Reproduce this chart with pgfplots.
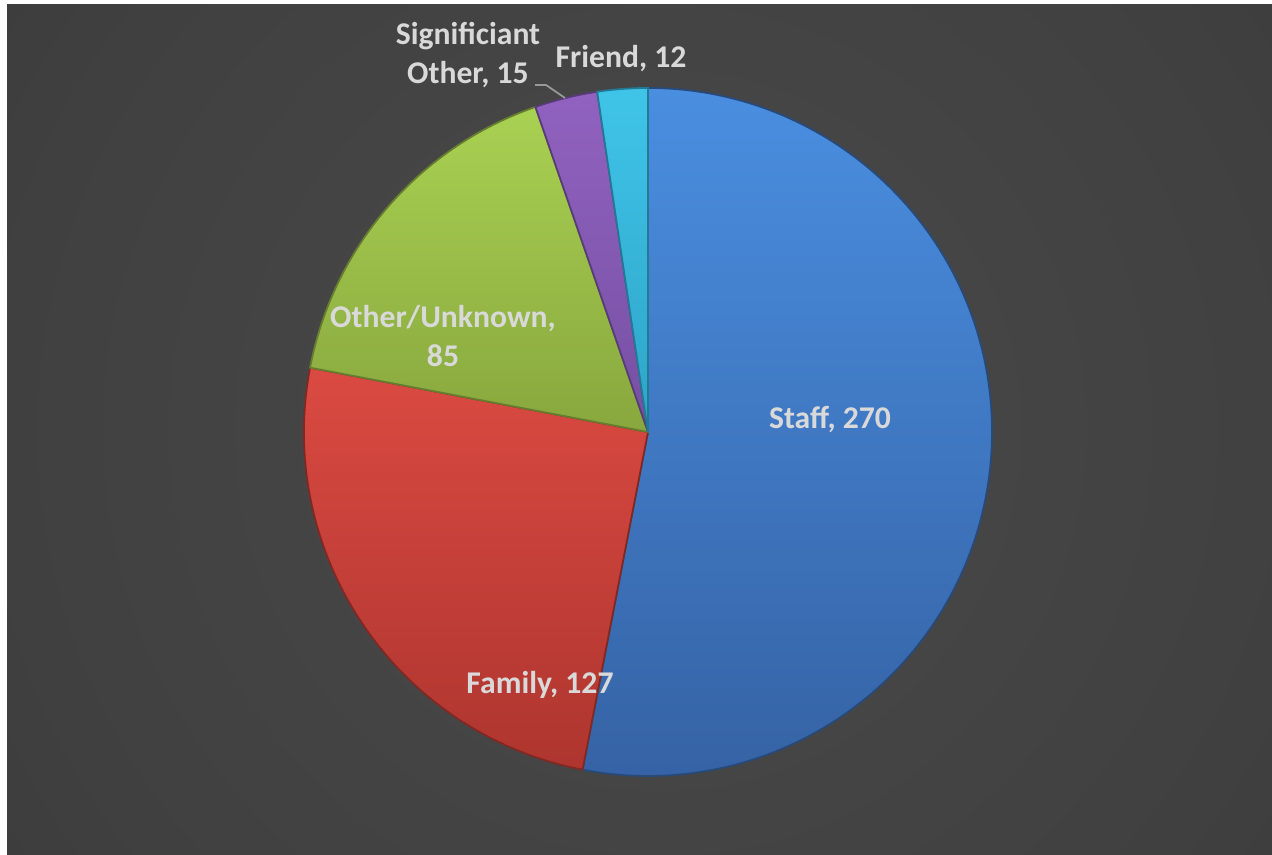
\documentclass[border=0pt]{standalone}
\usepackage{fontspec}
\setmainfont{Carlito}
\usepackage{pgfplots}
\pgfplotsset{compat=1.18}
\usepackage{pgfplotstable}

\pgfplotstableread[col sep=comma]{
label,value
Staff,270
Family,127
Other/Unknown,85
Significiant Other,15
Friend,12
}\piedata

\definecolor{bgA}{HTML}{4A4A4A}
\definecolor{bgB}{HTML}{404040}
\definecolor{bgC}{HTML}{363636}
\definecolor{bgD}{HTML}{262626}
\definecolor{lbl}{HTML}{D9D9D9}
\definecolor{staffT}{HTML}{4A8EE0}
\definecolor{staffB}{HTML}{3562A4}
\definecolor{famT}{HTML}{DA4A42}
\definecolor{famB}{HTML}{AE352F}
\definecolor{othT}{HTML}{A9D152}
\definecolor{othB}{HTML}{88A73E}
\definecolor{sigT}{HTML}{9162C0}
\definecolor{sigB}{HTML}{7550A2}
\definecolor{friT}{HTML}{3FC4E8}
\definecolor{friB}{HTML}{2EA4C8}

% 50bp = radius of the background circle
\pgfdeclareradialshading{bgshade}{\pgfpoint{0bp}{0bp}}{%
  color(0bp)=(bgA); color(20bp)=(bgB); color(33bp)=(bgC); color(48bp)=(bgD); color(100bp)=(bgD)}

% one slice: start angle, end angle, top colour, bottom colour
\newcommand\slice[4]{%
  \fill[top color=#3,bottom color=#4,draw=#4!75!black,line width=0.5pt]
    (axis cs:648,423) -- (axis cs:{648+344*cos(#1)},{423+344*sin(#1)})
    arc[start angle=#1,end angle=#2,radius=3.44cm] -- cycle;}

% cumulative angles, clockwise from 12 o'clock
\pgfplotstablegetelem{0}{value}\of\piedata\let\vA\pgfplotsretval
\pgfplotstablegetelem{1}{value}\of\piedata\let\vB\pgfplotsretval
\pgfplotstablegetelem{2}{value}\of\piedata\let\vC\pgfplotsretval
\pgfplotstablegetelem{3}{value}\of\piedata\let\vD\pgfplotsretval
\pgfplotstablegetelem{4}{value}\of\piedata\let\vE\pgfplotsretval
\pgfmathsetmacro\tot{\vA+\vB+\vC+\vD+\vE}
\pgfmathsetmacro\aA{90}
\pgfmathsetmacro\aB{\aA-360*(\vA/\tot)}
\pgfmathsetmacro\aC{\aB-360*(\vB/\tot)}
\pgfmathsetmacro\aD{\aC-360*(\vC/\tot)}
\pgfmathsetmacro\aE{\aD-360*(\vD/\tot)}
\pgfmathsetmacro\aF{\aE-360*(\vE/\tot)}

\begin{document}
\begin{tikzpicture}
\begin{axis}[at={(0,0)},anchor=south west,scale only axis,
  width=12.72cm,height=8.55cm,
  xmin=0,xmax=1272,ymin=0,ymax=855,
  hide axis,clip=false]
  \fill[white] (axis cs:0,0) rectangle (axis cs:1272,855);
  \begin{scope}
    \clip (axis cs:7,0) rectangle (axis cs:1272,850);
    \fill[bgD] (axis cs:7,0) rectangle (axis cs:1272,850);
    \fill[shading=bgshade] (axis cs:660,425) circle[radius=8.2cm];
  \end{scope}
  \slice{\aA}{\aB}{staffT}{staffB}
  \slice{\aB}{\aC}{famT}{famB}
  \slice{\aC}{\aD}{othT}{othB}
  \slice{\aD}{\aE}{sigT}{sigB}
  \slice{\aE}{\aF}{friT}{friB}
  \draw[gray!80,line width=0.5pt] (axis cs:535,770) -- (axis cs:546,770) -- (axis cs:565,757);
  \begin{scope}[every node/.style={font=\bfseries\fontsize{9}{11}\selectfont,text=lbl,align=center}]
  \node at (axis cs:830,435) {Staff, 270};
  \node at (axis cs:540,170) {Family, 127};
  \node at (axis cs:443,519) {Other/Unknown,\\85};
  \node at (axis cs:468,800) {Significiant\\Other, 15};
  \node at (axis cs:621,796) {Friend, 12};
  \end{scope}
\end{axis}
\end{tikzpicture}
\end{document}
